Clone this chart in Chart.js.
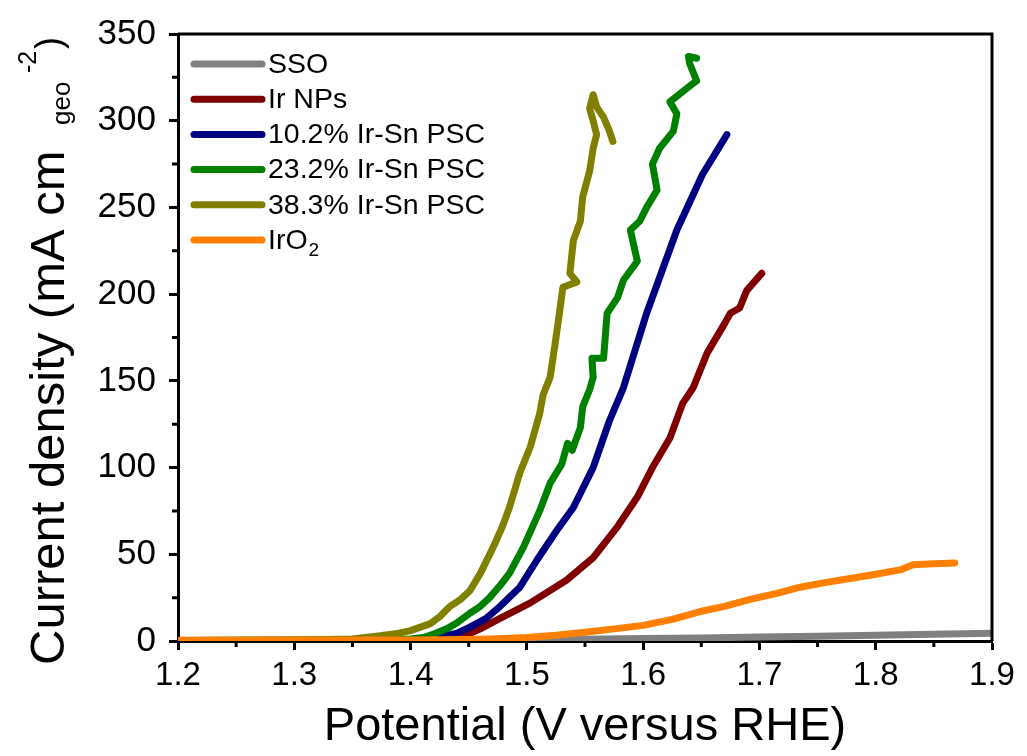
<!DOCTYPE html>
<html>
<head>
<meta charset="utf-8">
<script src="https://cdn.jsdelivr.net/npm/chart.js@4.4.0/dist/chart.umd.min.js"></script>
<style>
    body { margin: 0; background: #fff; }
    #wrap { width: 1027px; height: 756px; }
</style>
</head>
<body>
<div id="wrap"><canvas id="lsvChart"></canvas></div>
<script>
// series names and colours (legend order)
const seriesNames = ['SSO', 'Ir NPs', '10.2% Ir-Sn PSC', '23.2% Ir-Sn PSC', '38.3% Ir-Sn PSC', 'IrO_2'];
const seriesColors = ['#808080', '#800000', '#000080', '#008000', '#808000', '#ff8000'];

// potential (V vs RHE) / current density (mA cm-2)
const ssoV = [1.20, 1.40, 1.50, 1.55, 1.60, 1.65, 1.70, 1.75, 1.80, 1.85, 1.90, 1.92];
const ssoJ = [0.3, 0.4, 0.6, 1.0, 1.4, 1.8, 2.3, 2.8, 3.3, 3.9, 4.5, 4.8];

const irV = [1.20, 1.35, 1.42, 1.44, 1.45, 1.46, 1.474, 1.503, 1.534, 1.557, 1.578, 1.595, 1.608, 1.623, 1.634, 1.643, 1.655, 1.670, 1.675, 1.683, 1.689, 1.702];
const irJ = [0.3, 0.5, 1, 2, 4, 7, 12, 22, 35, 48, 66, 83, 100, 117, 137, 146, 166, 183, 189, 192, 202, 212];

const psc10V = [1.20, 1.38, 1.41, 1.423, 1.44, 1.451, 1.465, 1.477, 1.494, 1.509, 1.526, 1.540, 1.557, 1.571, 1.583, 1.603, 1.629, 1.651, 1.672];
const psc10J = [0.3, 0.5, 1, 2, 4.5, 8, 13, 20, 31, 47, 64, 77, 100, 127, 146, 189, 237, 269, 292];

const psc23V = [1.20, 1.36, 1.40, 1.411, 1.42, 1.431, 1.44, 1.451, 1.46, 1.468, 1.477, 1.485, 1.497, 1.511, 1.520, 1.530, 1.535, 1.539, 1.546, 1.548, 1.554, 1.557, 1.556, 1.566, 1.569, 1.578, 1.583, 1.595, 1.589, 1.597, 1.603, 1.612, 1.608, 1.614, 1.626, 1.629, 1.623, 1.642, 1.646, 1.640, 1.639, 1.646];
const psc23J = [0.3, 0.6, 1.2, 2, 4, 7, 10.5, 16, 20, 25, 32, 39, 54, 75, 91, 102, 114, 110, 123, 135, 145, 152, 163, 163, 189, 198, 208, 219, 237, 242, 250, 260, 275, 284, 294, 304, 311, 321, 323, 333, 337, 336];

const psc38V = [1.20, 1.30, 1.35, 1.374, 1.39, 1.40, 1.417, 1.425, 1.434, 1.443, 1.451, 1.460, 1.471, 1.479, 1.485, 1.494, 1.503, 1.511, 1.514, 1.520, 1.524, 1.528, 1.531, 1.543, 1.537, 1.540, 1.546, 1.548, 1.554, 1.557, 1.560, 1.557, 1.554, 1.557, 1.560, 1.566, 1.571, 1.574];
const psc38J = [0.3, 0.6, 1.2, 3, 4.5, 6, 10, 14, 20, 24, 29, 39, 54, 66, 77, 97, 112, 131, 142, 152, 170, 189, 204, 207, 212, 231, 242, 256, 271, 284, 292, 300, 307, 315, 308, 302, 294, 288];

const iro2V = [1.20, 1.40, 1.45, 1.475, 1.50, 1.525, 1.55, 1.575, 1.60, 1.625, 1.649, 1.67, 1.692, 1.715, 1.735, 1.755, 1.778, 1.80, 1.821, 1.832, 1.850, 1.868];
const iro2J = [0.5, 0.6, 0.9, 1.3, 2, 3.3, 5, 7, 9, 12.5, 17, 20, 24, 27.5, 31, 33.5, 36, 38.5, 41, 44, 44.5, 45];

// minor tick positions
const xMinor = [1.25, 1.35, 1.45, 1.55, 1.65, 1.75, 1.85];
const yMinor = [25, 75, 125, 175, 225, 275, 325];

const allV = [ssoV, irV, psc10V, psc23V, psc38V, iro2V];
const allJ = [ssoJ, irJ, psc10J, psc23J, psc38J, iro2J];

const fontFamily = "'Liberation Sans', Arial, sans-serif";

const datasets = seriesNames.map((name, i) => ({
    label: name,
    data: allV[i].map((v, k) => ({ x: v, y: allJ[i][k] })),
    borderColor: seriesColors[i],
    backgroundColor: seriesColors[i],
    borderWidth: 7,
    pointRadius: 0,
    borderCapStyle: 'round',
    borderJoinStyle: 'round',
    order: seriesNames.length - 1 - i
}));

// draw text with _x subscripts
function drawRich(ctx, text, x, y, size) {
    const parts = text.split('_');
    ctx.font = size + 'px ' + fontFamily;
    ctx.fillText(parts[0], x, y);
    if (parts.length > 1) {
        const w = ctx.measureText(parts[0]).width;
        ctx.font = Math.round(size * 0.68) + 'px ' + fontFamily;
        ctx.fillText(parts[1], x + w + 1, y + size * 0.35);
    }
}

const framePlugin = {
    id: 'framePlugin',
    afterDraw(chart) {
        const { ctx, chartArea: a, scales: { x, y } } = chart;
        ctx.save();
        ctx.strokeStyle = '#000';
        ctx.lineWidth = 3;
        ctx.beginPath();
        ctx.moveTo(a.left, a.top);
        ctx.lineTo(a.right, a.top);
        ctx.lineTo(a.right, a.bottom);
        ctx.stroke();

        ctx.lineWidth = 3;
        ctx.beginPath();
        xMinor.forEach(v => {
            const px = x.getPixelForValue(v);
            ctx.moveTo(px, a.bottom);
            ctx.lineTo(px, a.bottom + 6);
        });
        yMinor.forEach(v => {
            const py = y.getPixelForValue(v);
            ctx.moveTo(a.left, py);
            ctx.lineTo(a.left - 6, py);
        });
        ctx.stroke();

        // legend inside the plot
        ctx.textBaseline = 'middle';
        ctx.textAlign = 'left';
        chart.data.datasets.forEach((ds, i) => {
            const ly = a.top + 30 + i * 35.2;
            ctx.strokeStyle = ds.borderColor;
            ctx.lineWidth = 7;
            ctx.lineCap = 'round';
            ctx.beginPath();
            ctx.moveTo(a.left + 16, ly);
            ctx.lineTo(a.left + 84, ly);
            ctx.stroke();
            ctx.fillStyle = '#000';
            drawRich(ctx, ds.label, a.left + 90, ly + 1, 28.5);
        });

        // y axis title with sub/superscript
        ctx.translate(64, 665);
        ctx.rotate(-Math.PI / 2);
        ctx.textBaseline = 'alphabetic';
        ctx.fillStyle = '#000';
        ctx.font = '49px ' + fontFamily;
        ctx.fillText('Current density (mA cm', 0, 0);
        ctx.font = '26px ' + fontFamily;
        ctx.fillText('geo', 540, 6);
        ctx.font = '25px ' + fontFamily;
        ctx.fillText('-2', 592, -28);
        ctx.font = '36px ' + fontFamily;
        ctx.fillText(')', 616, -3);
        ctx.restore();
    }
};

const ctx = document.getElementById('lsvChart').getContext('2d');

const myChart = new Chart(ctx, {
    type: 'line',
    data: { datasets: datasets },
    options: {
        responsive: true,
        maintainAspectRatio: false,
        animation: false,
        layout: { padding: { left: 0, top: 33, right: 35, bottom: 0 } },
        scales: {
            x: {
                type: 'linear',
                min: 1.2,
                max: 1.9,
                afterFit: s => { s.height = 115; },
                border: { display: true, color: '#000', width: 3 },
                grid: { drawOnChartArea: false, drawTicks: true, tickLength: 9, tickWidth: 3, tickColor: '#000' },
                ticks: {
                    stepSize: 0.1,
                    padding: 6,
                    color: '#000',
                    font: { family: fontFamily, size: 33 },
                    callback: v => v.toFixed(1)
                },
                title: {
                    display: true,
                    text: 'Potential (V versus RHE)',
                    color: '#000',
                    font: { family: fontFamily, size: 47 },
                    padding: { top: 0, bottom: 1 }
                }
            },
            y: {
                type: 'linear',
                min: 0,
                max: 350,
                afterFit: s => { s.width = 178; },
                border: { display: true, color: '#000', width: 3 },
                grid: { drawOnChartArea: false, drawTicks: true, tickLength: 9, tickWidth: 3, tickColor: '#000' },
                ticks: {
                    stepSize: 50,
                    padding: 13,
                    color: '#000',
                    font: { family: fontFamily, size: 35 }
                }
            }
        },
        plugins: {
            legend: { display: false },
            tooltip: { enabled: false }
        }
    },
    plugins: [framePlugin]
});
</script>
</body>
</html>
